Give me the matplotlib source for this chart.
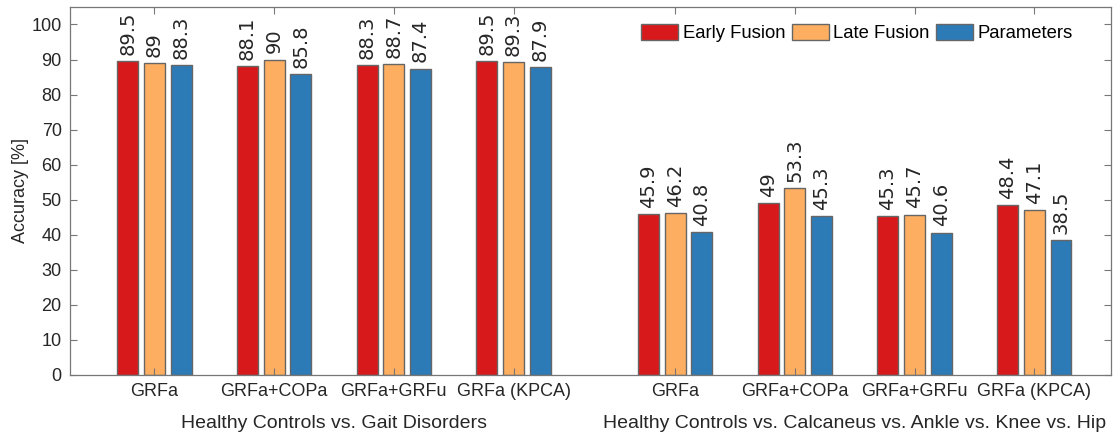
import matplotlib.pyplot as plt
import numpy as np

# accuracies for the two classification tasks, 4 input setups each
setups = ["GRFa", "GRFa+COPa", "GRFa+GRFu", "GRFa (KPCA)"]
tasks = ["Healthy Controls vs. Gait Disorders",
         "Healthy Controls vs. Calcaneus vs. Ankle vs. Knee vs. Hip"]
series = ["Early Fusion", "Late Fusion", "Parameters"]
early = [89.5, 88.1, 88.3, 89.5, 45.9, 49, 45.3, 48.4]
late = [89, 90, 88.7, 89.3, 46.2, 53.3, 45.7, 47.1]
params = [88.3, 85.8, 87.4, 87.9, 40.8, 45.3, 40.6, 38.5]
colors = ["#d7191c", "#fdae61", "#2c7bb6"]

plt.rcParams['font.family'] = ['Liberation Sans', 'DejaVu Sans']

x = np.array([1, 2, 3, 4, 5.35, 6.35, 7.35, 8.35])
w = 0.175
step = 0.223

fig = plt.figure(figsize=(11.19, 4.34), dpi=100)
ax = fig.add_axes([0.0626, 0.136, 0.9302, 0.848])

for i, (vals, name) in enumerate(zip([early, late, params], series)):
    pos = x + (i - 1) * step
    ax.bar(pos, vals, w, color=colors[i], edgecolor="#666666", linewidth=1.0, label=name)
    for p, v in zip(pos, vals):
        ax.text(p, v + 1.8, f"{v:g}", rotation=90, ha="center", va="bottom",
                fontsize=14, color="#262626", family="DejaVu Sans")

ax.set_xlim(0.295, 8.99)
ax.set_ylim(0, 105)
ax.set_yticks(np.arange(0, 101, 10))
ax.set_xticks(x)
ax.set_xticklabels(setups * 2)
ax.tick_params(direction="in", top=True, right=True, length=5, width=0.8,
               colors="#777777", labelcolor="#262626", labelsize=13, pad=6)
for s in ax.spines.values():
    s.set_color("#777777")
    s.set_linewidth(0.9)
ax.set_ylabel("Accuracy [%]", fontsize=13, color="#262626", labelpad=2)

# task names under each block of groups
for xc, t in zip([x[:4].mean(), x[4:].mean()], tasks):
    ax.text(xc, -0.11, t, transform=ax.get_xaxis_transform(), ha="center", va="top",
            fontsize=14, color="#262626")

ax.legend(loc="upper right", ncol=3, frameon=False, fontsize=13.3,
          handlelength=2.0, handleheight=1.0, handletextpad=0.25, columnspacing=0.35,
          bbox_to_anchor=(0.976, 0.99), borderaxespad=0.3)

fig.savefig("out.png", dpi=100)
